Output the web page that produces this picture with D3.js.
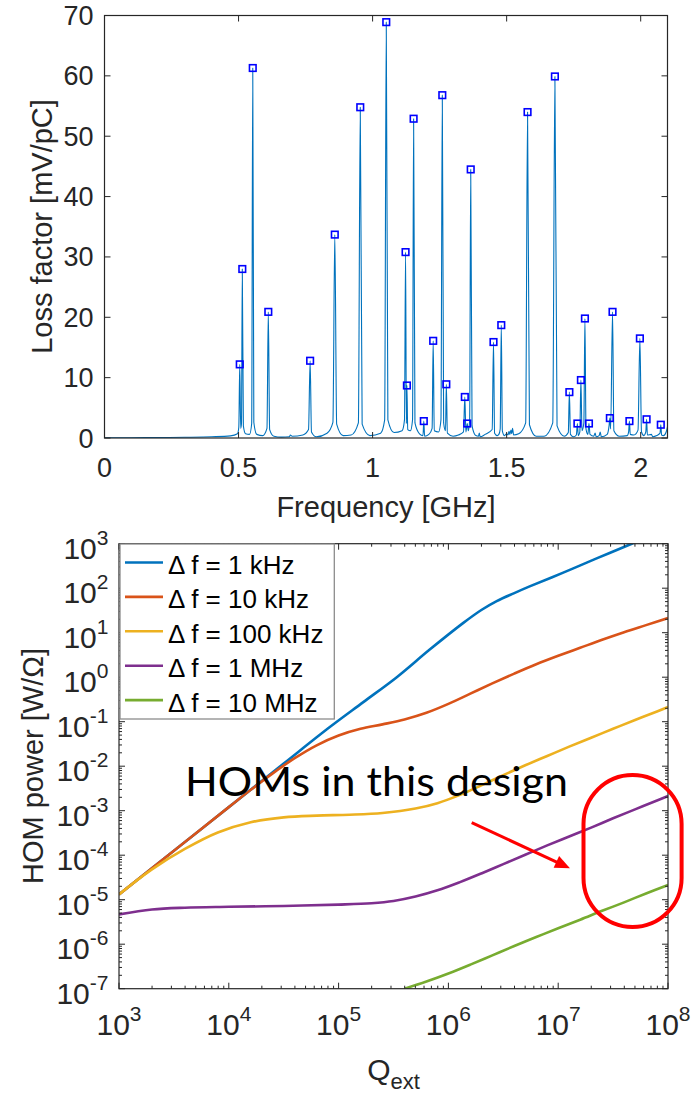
<!DOCTYPE html>
<html lang="en">
<head>
<meta charset="UTF-8">
<title>Loss factor and HOM power</title>
<script src="https://cdn.jsdelivr.net/npm/d3@7"></script>
<style>
    body { margin: 0; background: #fff; }
    svg { display: block; font-family: "Liberation Sans", Arial, sans-serif; }
</style>
</head>
<body>
<svg id="fig" width="700" height="1094"></svg>
<script>
    // ---------- top panel: loss factor spectrum ----------
    let freqTicks = [0, 0.5, 1, 1.5, 2]
    let lossTicks = [0, 10, 20, 30, 40, 50, 60, 70]

    // marked resonances (GHz, mV/pC)
    let peakFreq = [0.5045, 0.514, 0.553, 0.611, 0.767, 0.859, 0.954, 1.051, 1.123, 1.128,
                    1.153, 1.191, 1.226, 1.260, 1.275, 1.344, 1.353, 1.366, 1.451, 1.480,
                    1.578, 1.680, 1.734, 1.764, 1.777, 1.792, 1.807, 1.885, 1.895, 1.958,
                    1.997, 2.022, 2.075]
    let peakLoss = [12.2, 28.0, 61.3, 20.9, 12.8, 33.7, 54.8, 68.9, 30.8, 8.7,
                    52.9, 2.8, 16.1, 56.8, 8.9, 6.8, 2.4, 44.5, 15.9, 18.7,
                    54.0, 59.9, 7.6, 2.4, 9.6, 19.8, 2.4, 3.3, 20.9, 2.8,
                    16.5, 3.1, 2.2]

    // spectrum line (GHz, mV/pC)
    let lossCurve = [
        [0.000, 0.02], [0.100, 0.05], [0.200, 0.08], [0.300, 0.12], [0.400, 0.2], [0.470, 0.35],
        [0.496, 0.7], [0.501, 1.8], [0.5045, 12.2], [0.508, 1.6], [0.511, 2.4], [0.514, 28.0],
        [0.518, 2.0], [0.526, 0.7], [0.541, 0.6], [0.549, 2.4], [0.553, 61.3], [0.557, 2.6],
        [0.568, 0.6], [0.590, 0.4], [0.606, 1.6], [0.611, 20.9], [0.616, 1.4], [0.632, 0.3],
        [0.660, 0.15], [0.690, 0.2], [0.693, 0.5], [0.700, 0.3], [0.740, 0.5], [0.761, 1.4],
        [0.767, 12.8], [0.772, 1.0], [0.790, 0.2], [0.830, 0.8], [0.852, 2.6], [0.859, 33.7],
        [0.866, 2.3], [0.890, 0.4], [0.920, 0.5], [0.947, 2.5], [0.954, 54.8], [0.961, 2.3],
        [0.990, 0.4], [1.030, 0.8], [1.045, 3.0], [1.051, 68.9], [1.057, 3.0], [1.080, 0.9],
        [1.110, 1.2], [1.119, 3.0], [1.123, 30.8], [1.126, 2.4], [1.128, 8.7], [1.131, 1.4],
        [1.141, 1.2], [1.149, 3.0], [1.153, 52.9], [1.158, 2.5], [1.175, 0.7], [1.188, 0.4],
        [1.191, 2.8], [1.194, 0.3], [1.210, 0.6], [1.222, 1.6], [1.226, 16.1], [1.230, 1.2],
        [1.246, 1.0], [1.255, 3.0], [1.260, 56.8], [1.265, 2.5], [1.272, 1.2], [1.275, 8.9],
        [1.279, 0.8], [1.300, 0.3], [1.320, 0.5], [1.339, 1.0], [1.344, 6.8], [1.348, 1.0],
        [1.353, 2.4], [1.357, 1.2], [1.362, 3.0], [1.366, 44.5], [1.371, 2.0], [1.385, 0.4],
        [1.395, 0.3], [1.398, 0.8], [1.401, 0.2], [1.420, 0.6], [1.446, 1.4], [1.451, 15.9],
        [1.455, 0.8], [1.465, 0.4], [1.471, 0.6], [1.476, 1.5], [1.480, 18.7], [1.484, 1.2],
        [1.492, 0.4], [1.500, 0.7], [1.505, 0.5], [1.509, 1.1], [1.512, 0.6], [1.516, 1.3],
        [1.519, 0.7], [1.522, 1.6], [1.526, 0.5], [1.545, 0.7], [1.571, 2.5], [1.578, 54.0],
        [1.585, 2.2], [1.610, 0.3], [1.640, 0.3], [1.672, 2.5], [1.680, 59.9], [1.688, 2.0],
        [1.715, 0.3], [1.730, 0.9], [1.734, 7.6], [1.738, 0.6], [1.750, 0.2], [1.760, 0.5],
        [1.764, 2.4], [1.767, 0.4], [1.773, 1.0], [1.777, 9.6], [1.781, 1.2], [1.788, 2.5],
        [1.792, 19.8], [1.796, 1.5], [1.803, 0.6], [1.807, 2.4], [1.811, 0.6], [1.825, 0.3],
        [1.830, 0.8], [1.834, 0.2], [1.845, 0.4], [1.849, 1.0], [1.853, 0.2], [1.875, 0.6],
        [1.882, 2.0], [1.885, 3.3], [1.888, 1.5], [1.895, 20.9], [1.900, 1.2], [1.920, 0.3],
        [1.950, 0.4], [1.955, 1.0], [1.958, 2.8], [1.961, 0.6], [1.975, 0.5], [1.990, 1.3],
        [1.997, 16.5], [2.003, 1.0], [2.012, 0.4], [2.019, 1.0], [2.022, 3.1], [2.025, 0.5],
        [2.040, 0.6], [2.045, 0.2], [2.060, 0.4], [2.072, 0.8], [2.075, 2.2], [2.078, 0.5],
        [2.085, 0.4], [2.095, 1.0], [2.100, 1.9]
    ]

    // ---------- bottom panel: HOM power vs Qext ----------
    let qextDecades = [3, 4, 5, 6, 7, 8]
    let powerDecades = [-7, -6, -5, -4, -3, -2, -1, 0, 1, 2, 3]
    let seriesNames = ["\u0394 f = 1 kHz", "\u0394 f = 10 kHz", "\u0394 f = 100 kHz", "\u0394 f = 1 MHz", "\u0394 f = 10 MHz"]
    let seriesColors = ["#0072BD", "#D95319", "#EDB120", "#7E2F8E", "#77AC30"]

    // [log10 Qext, log10 P]
    let df1kHz = [[3.0, -4.88], [3.5, -3.90], [4.0, -2.92], [4.5, -1.94], [4.92, -1.12], [5.225, -0.56],
                  [5.53, 0.0], [5.83, 0.62], [6.136, 1.22], [6.3, 1.51], [6.44, 1.71], [6.6, 1.89],
                  [6.74, 2.04], [7.046, 2.35], [7.35, 2.67], [7.67, 3.0], [7.75, 3.08]]
    let df10kHz = [[3.0, -4.88], [3.5, -3.90], [4.0, -2.92], [4.2, -2.53], [4.4, -2.16], [4.6, -1.82],
                   [4.8, -1.53], [5.0, -1.31], [5.2, -1.16], [5.4, -1.06], [5.6, -0.95], [5.8, -0.80],
                   [6.0, -0.60], [6.2, -0.37], [6.4, -0.14], [6.6, 0.08], [6.8, 0.29], [7.0, 0.48],
                   [7.2, 0.66], [7.4, 0.84], [7.6, 1.01], [7.8, 1.17], [8.0, 1.33]]
    let df100kHz = [[3.0, -4.88], [3.3, -4.32], [3.6, -3.86], [3.9, -3.49], [4.2, -3.26], [4.5, -3.15],
                    [4.8, -3.11], [5.1, -3.09], [5.4, -3.05], [5.7, -2.95], [5.9, -2.83], [6.1, -2.65],
                    [6.3, -2.43], [6.5, -2.20], [6.7, -1.98], [6.9, -1.77], [7.1, -1.56], [7.3, -1.36],
                    [7.5, -1.16], [7.7, -0.96], [7.9, -0.77], [8.0, -0.67]]
    let df1MHz = [[3.0, -5.33], [3.3, -5.22], [3.6, -5.18], [4.0, -5.16], [4.5, -5.14], [5.0, -5.11],
                  [5.3, -5.08], [5.5, -5.03], [5.7, -4.93], [5.9, -4.79], [6.1, -4.61], [6.3, -4.41],
                  [6.5, -4.20], [6.7, -3.99], [6.9, -3.78], [7.1, -3.58], [7.3, -3.38], [7.5, -3.17],
                  [7.7, -2.97], [7.9, -2.77], [8.0, -2.67]]
    let df10MHz = [[5.6, -7.0], [5.8, -6.84], [6.0, -6.66], [6.2, -6.46], [6.4, -6.25], [6.6, -6.04],
                   [6.8, -5.84], [7.0, -5.64], [7.2, -5.45], [7.4, -5.25], [7.6, -5.06], [7.8, -4.86],
                   [8.0, -4.67]]
    let homSeries = [df1kHz, df10kHz, df100kHz, df1MHz, df10MHz]

    // annotation anchors in data units (Qext, W/Ohm)
    let noteText = "HOMs in this design"
    let noteAt = [3.99e3, 2.14e-3]
    let arrowFrom = [1.63e6, 5.4e-4]
    let arrowTo = [1.28e7, 5.08e-5]
    let ovalCorners = [[1.70e7, 6.34e-3], [1.33e8, 2.44e-6]]

    //-------------//

    const svg = d3.select("#fig")
    const ink = "#262626"
    svg.append("rect").attr("width", 700).attr("height", 1094).attr("fill", "white")

    // ===== top axes =====
    let x1 = d3.scaleLinear().domain([0, 2.1]).range([104.5, 667.5])
    let y1 = d3.scaleLinear().domain([0, 70]).range([438, 15.5])

    let topPanel = svg.append("g")
    topPanel.append("clipPath").attr("id", "clipTop")
        .append("rect").attr("x", 104.5).attr("y", 15.5).attr("width", 563).attr("height", 422.5)

    topPanel.append("path")
        .datum(lossCurve)
        .attr("clip-path", "url(#clipTop)")
        .attr("fill", "none")
        .attr("stroke", "#0072BD")
        .attr("stroke-width", 1.1)
        .attr("stroke-linejoin", "round")
        .attr("d", d3.line().x(d => x1(d[0])).y(d => y1(d[1])).curve(d3.curveMonotoneX))

    topPanel.selectAll(".pk")
        .data(d3.range(peakFreq.length))
        .enter()
        .append("rect")
        .attr("x", i => x1(peakFreq[i]) - 3.3)
        .attr("y", i => y1(peakLoss[i]) - 3.3)
        .attr("width", 6.6)
        .attr("height", 6.6)
        .attr("fill", "none")
        .attr("stroke", "#0000FF")
        .attr("stroke-width", 1.6)

    // box + inward ticks
    topPanel.append("rect")
        .attr("x", 104.5).attr("y", 15.5).attr("width", 563).attr("height", 422.5)
        .attr("fill", "none").attr("stroke", ink).attr("stroke-width", 1.2)

    freqTicks.forEach(function (t) {
        let x = x1(t)
        topPanel.append("line").attr("x1", x).attr("x2", x).attr("y1", 438).attr("y2", 432).attr("stroke", ink)
        topPanel.append("line").attr("x1", x).attr("x2", x).attr("y1", 15.5).attr("y2", 21.5).attr("stroke", ink)
        topPanel.append("text").attr("x", x).attr("y", 476.5)
            .attr("text-anchor", "middle").attr("font-size", 27).attr("fill", ink)
            .text(t)
    })
    lossTicks.forEach(function (t) {
        let y = y1(t)
        topPanel.append("line").attr("x1", 104.5).attr("x2", 110.5).attr("y1", y).attr("y2", y).attr("stroke", ink)
        topPanel.append("line").attr("x1", 667.5).attr("x2", 661.5).attr("y1", y).attr("y2", y).attr("stroke", ink)
        topPanel.append("text").attr("x", 93.5).attr("y", y + 9.5)
            .attr("text-anchor", "end").attr("font-size", 27).attr("fill", ink)
            .text(t)
    })
    topPanel.append("text").attr("x", 386).attr("y", 516.5)
        .attr("text-anchor", "middle").attr("font-size", 29).attr("fill", ink)
        .text("Frequency [GHz]")
    topPanel.append("text")
        .attr("transform", "translate(51.5,226.5) rotate(-90)")
        .attr("text-anchor", "middle").attr("font-size", 29).attr("fill", ink)
        .text("Loss factor [mV/pC]")

    // ===== bottom axes =====
    let left2 = 119, right2 = 668, top2 = 543.7, bot2 = 988.7
    let x2 = d3.scaleLog().domain([1e3, 1e8]).range([left2, right2])
    let y2 = d3.scaleLog().domain([1e-7, 1e3]).range([bot2, top2])

    let botPanel = svg.append("g")
    botPanel.append("clipPath").attr("id", "clipBot")
        .append("rect").attr("x", left2).attr("y", top2).attr("width", right2 - left2).attr("height", bot2 - top2)

    let homLine = d3.line()
        .x(d => x2(Math.pow(10, d[0])))
        .y(d => y2(Math.pow(10, d[1])))
        .curve(d3.curveCatmullRom.alpha(0.5))

    botPanel.selectAll(".hom")
        .data(homSeries)
        .enter()
        .append("path")
        .attr("clip-path", "url(#clipBot)")
        .attr("fill", "none")
        .attr("stroke", (d, i) => seriesColors[i])
        .attr("stroke-width", 2.6)
        .attr("d", homLine)

    // minor + major ticks on all four sides
    qextDecades.forEach(function (e) {
        for (let m = 1; m <= 9; m++) {
            if (e === 8 && m > 1) break
            let x = x2(m * Math.pow(10, e))
            let len = m === 1 ? 6 : 3
            botPanel.append("line").attr("x1", x).attr("x2", x).attr("y1", bot2).attr("y2", bot2 - len).attr("stroke", ink)
            botPanel.append("line").attr("x1", x).attr("x2", x).attr("y1", top2).attr("y2", top2 + len).attr("stroke", ink)
        }
        let lab = botPanel.append("text").attr("x", x2(Math.pow(10, e))).attr("y", 1035)
            .attr("text-anchor", "middle").attr("font-size", 30).attr("fill", ink)
        lab.append("tspan").text("10")
        lab.append("tspan").attr("font-size", 21).attr("dy", -14).text(e)
    })
    powerDecades.forEach(function (e) {
        for (let m = 1; m <= 9; m++) {
            if (e === 3 && m > 1) break
            let y = y2(m * Math.pow(10, e))
            let len = m === 1 ? 6 : 3
            botPanel.append("line").attr("x1", left2).attr("x2", left2 + len).attr("y1", y).attr("y2", y).attr("stroke", ink)
            botPanel.append("line").attr("x1", right2).attr("x2", right2 - len).attr("y1", y).attr("y2", y).attr("stroke", ink)
        }
        let lab = botPanel.append("text").attr("x", 108.5).attr("y", y2(Math.pow(10, e)) + 15)
            .attr("text-anchor", "end").attr("font-size", 30).attr("fill", ink)
        lab.append("tspan").text("10")
        lab.append("tspan").attr("font-size", 21).attr("dy", -14).text(e < 0 ? "-" + (-e) : e)
    })
    botPanel.append("rect")
        .attr("x", left2).attr("y", top2).attr("width", right2 - left2).attr("height", bot2 - top2)
        .attr("fill", "none").attr("stroke", ink).attr("stroke-width", 1.2)

    // axis labels
    let ql = botPanel.append("text").attr("x", 393.5).attr("y", 1080)
        .attr("text-anchor", "middle").attr("font-size", 30).attr("fill", ink)
    ql.append("tspan").text("Q")
    ql.append("tspan").attr("font-size", 22).attr("dy", 9).text("ext")
    botPanel.append("text")
        .attr("transform", "translate(43,766) rotate(-90)")
        .attr("text-anchor", "middle").attr("font-size", 29).attr("fill", ink)
        .text("HOM power [W/\u03A9]")

    // legend
    let leg = botPanel.append("g")
    leg.append("rect").attr("x", 120).attr("y", 544).attr("width", 214.3).attr("height", 175)
        .attr("fill", "white").attr("stroke", "#8c8c8c").attr("stroke-width", 1.3)
    seriesNames.forEach(function (name, i) {
        let y = 562.5 + i * 34.4
        leg.append("line").attr("x1", 125).attr("x2", 163).attr("y1", y).attr("y2", y)
            .attr("stroke", seriesColors[i]).attr("stroke-width", 2.6)
        leg.append("text").attr("x", 168).attr("y", y + 11.5)
            .attr("font-size", 26).attr("fill", "black")
            .text(name)
    })

    // annotation
    botPanel.append("text")
        .attr("x", x2(noteAt[0])).attr("y", y2(noteAt[1]))
        .attr("font-family", "Lato, 'Open Sans', sans-serif")
        .attr("font-size", 41)
        .attr("textLength", 383).attr("lengthAdjust", "spacingAndGlyphs")
        .attr("fill", "black")
        .text(noteText)

    let ax0 = x2(arrowFrom[0]), ay0 = y2(arrowFrom[1])
    let ax1 = x2(arrowTo[0]), ay1 = y2(arrowTo[1])
    let len = Math.hypot(ax1 - ax0, ay1 - ay0)
    let ux = (ax1 - ax0) / len, uy = (ay1 - ay0) / len
    let bx = ax1 - 15 * ux, by = ay1 - 15 * uy
    botPanel.append("line").attr("x1", ax0).attr("y1", ay0).attr("x2", bx + ux).attr("y2", by + uy)
        .attr("stroke", "#FF0000").attr("stroke-width", 3)
    botPanel.append("path")
        .attr("d", "M" + ax1 + "," + ay1 +
                   "L" + (bx - 6.5 * uy) + "," + (by + 6.5 * ux) +
                   "L" + (bx + 6.5 * uy) + "," + (by - 6.5 * ux) + "Z")
        .attr("fill", "#FF0000")

    let ox0 = x2(ovalCorners[0][0]), oy0 = y2(ovalCorners[0][1])
    let ox1 = x2(ovalCorners[1][0]), oy1 = y2(ovalCorners[1][1])
    botPanel.append("rect")
        .attr("x", ox0).attr("y", oy0).attr("width", ox1 - ox0).attr("height", oy1 - oy0)
        .attr("rx", (ox1 - ox0) / 2).attr("ry", (ox1 - ox0) / 2)
        .attr("fill", "none").attr("stroke", "#FF0000").attr("stroke-width", 4)
</script>
</body>
</html>
